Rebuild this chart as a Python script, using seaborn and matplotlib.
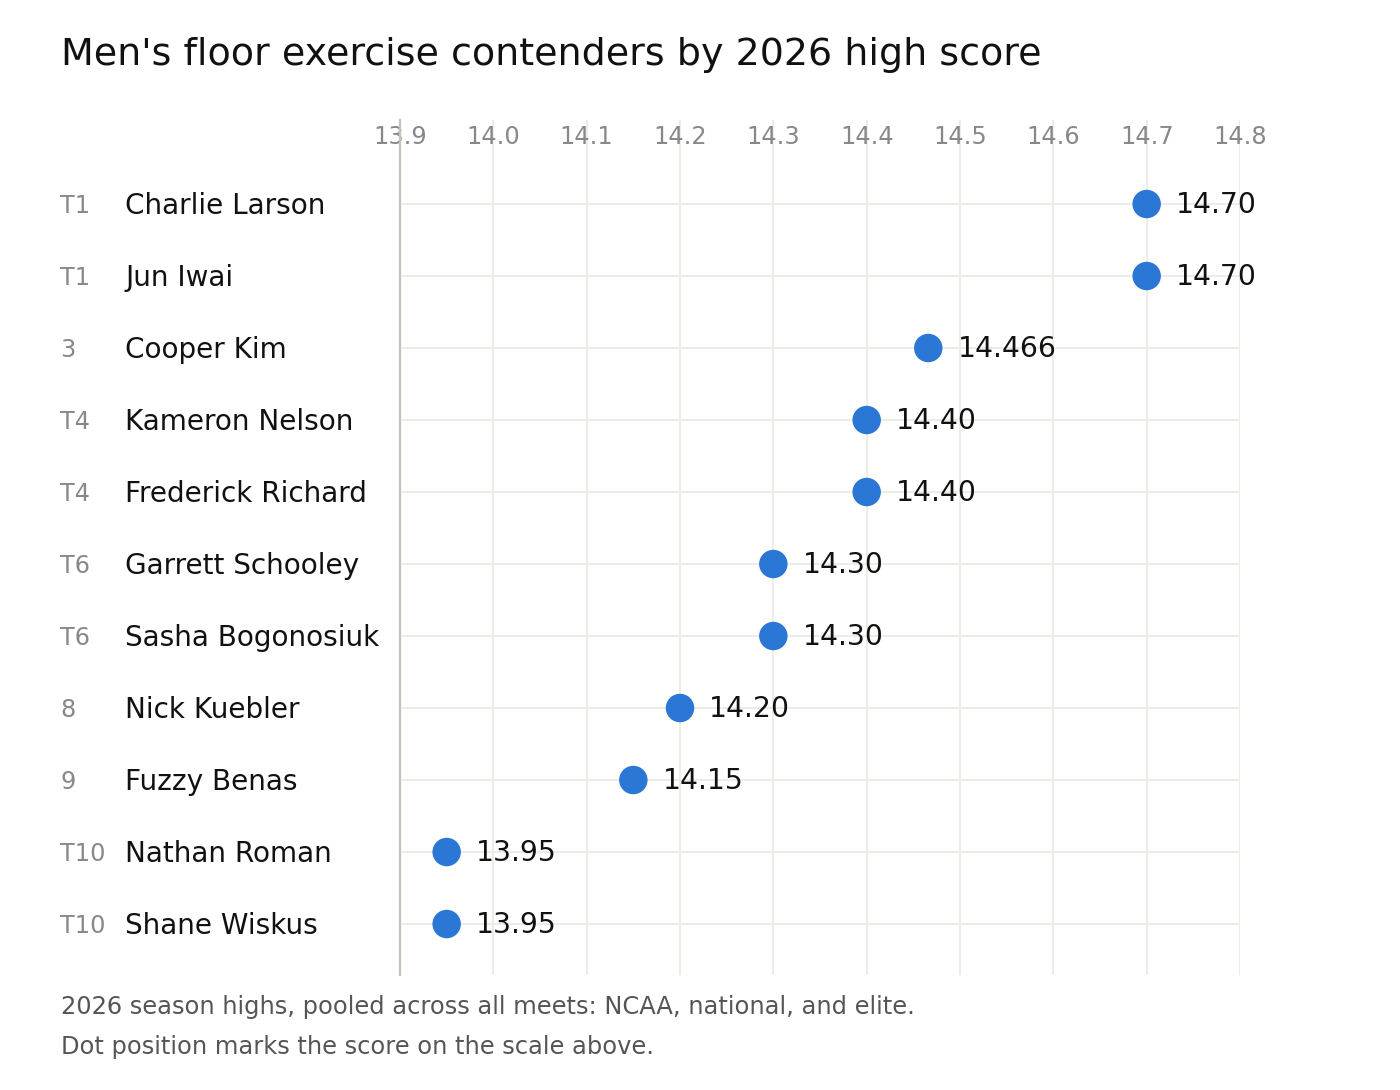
import matplotlib
matplotlib.use("Agg")
import matplotlib.pyplot as plt
import matplotlib.transforms as mtransforms
import seaborn as sns
import pandas as pd

names = ["Charlie Larson", "Jun Iwai", "Cooper Kim", "Kameron Nelson", "Frederick Richard",
         "Garrett Schooley", "Sasha Bogonosiuk", "Nick Kuebler", "Fuzzy Benas",
         "Nathan Roman", "Shane Wiskus"]
ranks = ["T1", "T1", "3", "T4", "T4", "T6", "T6", "8", "9", "T10", "T10"]
scores = [14.70, 14.70, 14.466, 14.40, 14.40, 14.30, 14.30, 14.20, 14.15, 13.95, 13.95]
ticks = [13.9, 14.0, 14.1, 14.2, 14.3, 14.4, 14.5, 14.6, 14.7, 14.8]

title = "Men's floor exercise contenders by 2026 high score"
footer1 = "2026 season highs, pooled across all meets: NCAA, national, and elite."
footer2 = "Dot position marks the score on the scale above."

df = pd.DataFrame({"name": names, "rank": ranks, "score": scores})

sns.set_theme(style="white")
plt.rcParams["font.family"] = ["DejaVu Sans"]

fig = plt.figure(figsize=(14, 10.9), dpi=100)
ax = fig.add_axes([400 / 1400, 1 - 975 / 1090, 840 / 1400, 855 / 1090])

dot_color = "#2a77d6"
sns.scatterplot(data=df, x="score", y="name", ax=ax, s=420, color=dot_color,
                edgecolor="none", zorder=3, legend=False)

ax.set_xlim(13.9, 14.8)
ax.set_ylim(len(names) - 1 + 0.708, -1.1667)

ax.set_xticks(ticks)
ax.set_xticklabels([f"{t:.1f}" for t in ticks])
ax.xaxis.tick_top()
ax.tick_params(axis="x", length=0, labelsize=17.3, labelcolor="#888888", pad=-21)
ax.set_yticks([])
ax.set_xlabel("")
ax.set_ylabel("")

# vertical grid lines
for t in ticks[1:]:
    ax.axvline(t, color="#eeece6", lw=1.5, zorder=0)
# horizontal row lines
for i in range(len(names)):
    ax.hlines(i, 13.9, 14.8, color="#eeece6", lw=1.5, zorder=0)

for s in ["top", "right", "bottom"]:
    ax.spines[s].set_visible(False)
ax.spines["left"].set_color("#c4c1b8")
ax.spines["left"].set_linewidth(1.6)

trans = mtransforms.blended_transform_factory(fig.transFigure, ax.transData)
off = mtransforms.ScaledTranslation(0, -1.5 / 100, fig.dpi_scale_trans)
for i, (n, r, v) in enumerate(zip(names, ranks, scores)):
    ax.text(60 / 1400, i, r, transform=trans + off, fontsize=17.3, color="#888888",
            va="center", ha="left")
    ax.text(125 / 1400, i, n, transform=trans + off, fontsize=20.1, color="#111111",
            va="center", ha="left")
    lab = f"{v:.2f}" if abs(round(v, 2) - v) < 1e-9 else f"{v:.3f}"
    ax.annotate(lab, (v, i), xytext=(21, -1), textcoords="offset points",
                fontsize=20.3, color="#111111", va="center", ha="left")

fig.text(61 / 1400, 1 - 55 / 1090, title, fontsize=27.4, color="#111111",
         va="center", ha="left")
fig.text(61 / 1400, 1 - 1007 / 1090, footer1, fontsize=17.4, color="#555555",
         va="center", ha="left")
fig.text(61 / 1400, 1 - 1047 / 1090, footer2, fontsize=17.4, color="#555555",
         va="center", ha="left")

fig.savefig("out.png", dpi=100, facecolor="white")
